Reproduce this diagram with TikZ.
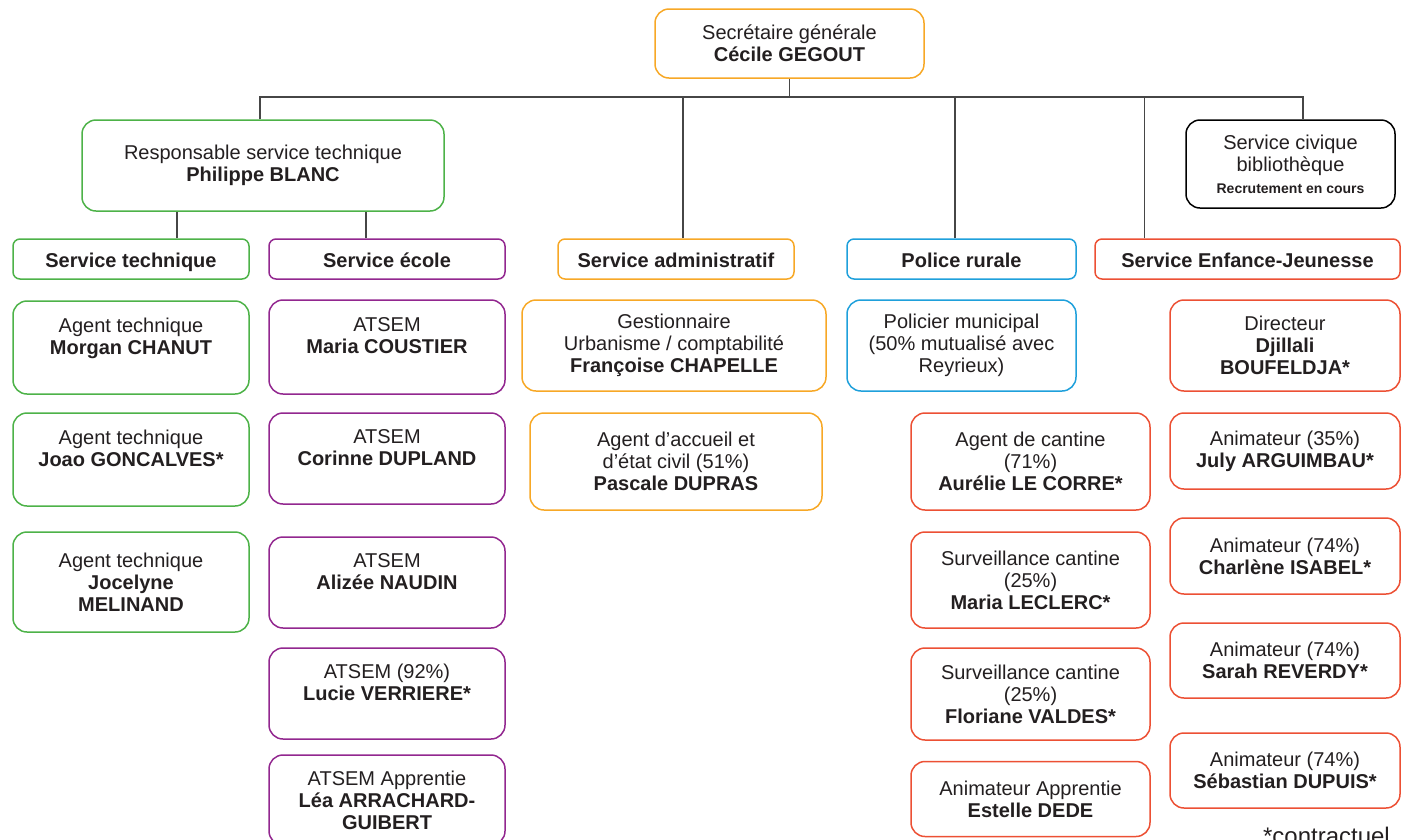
\documentclass[tikz,border=0pt]{standalone}
\usepackage{fontspec}
\setmainfont{Liberation Sans}
\usepackage{tikz}
\definecolor{vertST}{RGB}{77,178,72}
\definecolor{violetSE}{RGB}{146,39,143}
\definecolor{orangeSA}{RGB}{247,168,38}
\definecolor{bleuPR}{RGB}{31,160,219}
\definecolor{rougeEJ}{RGB}{236,80,52}
\definecolor{texte}{RGB}{35,31,32}
\definecolor{trait}{RGB}{70,70,70}
\newcommand{\taille}{\fontsize{20}{22}\selectfont}
\tikzstyle{poste} = [draw, rectangle, rounded corners=14pt, line width=1.5pt,
    align=center, text=texte, font=\taille, inner sep=0pt]
\tikzstyle{entete} = [poste, rounded corners=7pt, minimum height=40pt,
    text height=17pt, text depth=0pt, font=\taille\bfseries]
\tikzstyle{lien} = [draw=trait, line width=1.3pt]

\begin{document}
\begin{tikzpicture}[x=1pt, y=-1pt]
    \useasboundingbox (0,0) rectangle (1404,839);
    % direction
    \node[poste, draw=orangeSA, minimum width=269pt, minimum height=69pt] (sg) at (789.5,43.5)
        {Secrétaire générale\\ \textbf{Cécile GEGOUT}};
    \node[poste, draw=vertST, minimum width=362pt, minimum height=91pt] (resp) at (263,165.5)
        {Responsable service technique\\ \textbf{Philippe BLANC}};
    \node[poste, draw=black, minimum width=209pt, minimum height=88pt] (civ) at (1290.5,164)
        {Service civique\\ bibliothèque\\ {\fontsize{14}{16}\selectfont\bfseries Recrutement en cours}};

    % services
    \node[entete, draw=vertST, minimum width=236pt] (st) at (131,259) {Service technique};
    \node[entete, draw=violetSE, minimum width=236pt] (se) at (387,259) {Service école};
    \node[entete, draw=orangeSA, minimum width=236pt] (sa) at (676,259) {Service administratif};
    \node[entete, draw=bleuPR, minimum width=229pt] (pr) at (961.5,259) {Police rurale};
    \node[entete, draw=rougeEJ, minimum width=305pt] (sej) at (1247.5,259) {Service Enfance-Jeunesse};

    % service technique
    \node[poste, draw=vertST, minimum width=236pt, minimum height=93pt] (at1) at (131,347.5)
        {Agent technique\\ \textbf{Morgan CHANUT}\\ ~};
    \node[poste, draw=vertST, minimum width=236pt, minimum height=93pt] (at2) at (131,459.5)
        {Agent technique\\ \textbf{Joao GONCALVES*}\\ ~};
    \node[poste, draw=vertST, minimum width=236pt, minimum height=100pt] (at3) at (131,582)
        {Agent technique\\ \textbf{Jocelyne}\\ \textbf{MELINAND}};

    % service ecole
    \node[poste, draw=violetSE, minimum width=236pt, minimum height=94pt] (ec1) at (387,347)
        {ATSEM\\ \textbf{Maria COUSTIER}\\ ~};
    \node[poste, draw=violetSE, minimum width=236pt, minimum height=91pt] (ec2) at (387,458.5)
        {ATSEM\\ \textbf{Corinne DUPLAND}\\ ~};
    \node[poste, draw=violetSE, minimum width=236pt, minimum height=91pt] (ec3) at (387,582.5)
        {ATSEM\\ \textbf{Alizée NAUDIN}\\ ~};
    \node[poste, draw=violetSE, minimum width=236pt, minimum height=91pt] (ec4) at (387,693.5)
        {ATSEM (92\%)\\ \textbf{Lucie VERRIERE*}\\ ~};
    \node[poste, draw=violetSE, minimum width=236pt, minimum height=90pt] (ec5) at (387,800)
        {ATSEM Apprentie\\ \textbf{Léa ARRACHARD-}\\ \textbf{GUIBERT}};

    % service administratif
    \node[poste, draw=orangeSA, minimum width=304pt, minimum height=91pt] (ad1) at (674,345.5)
        {Gestionnaire\\ Urbanisme / comptabilité\\ \textbf{Françoise CHAPELLE}};
    \node[poste, draw=orangeSA, minimum width=292pt, minimum height=97pt] (ad2) at (676,461.5)
        {Agent d’accueil et\\ d’état civil (51\%)\\ \textbf{Pascale DUPRAS}};

    % police rurale et cantine
    \node[poste, draw=bleuPR, minimum width=229pt, minimum height=91pt] (pol) at (961.5,345.5)
        {Policier municipal\\ (50\% mutualisé avec\\ Reyrieux)};
    \node[poste, draw=rougeEJ, minimum width=239pt, minimum height=97pt] (ca1) at (1030.5,461.5)
        {Agent de cantine\\ (71\%)\\ \textbf{Aurélie LE CORRE*}};
    \node[poste, draw=rougeEJ, minimum width=239pt, minimum height=96pt] (ca2) at (1030.5,580)
        {Surveillance cantine\\ (25\%)\\ \textbf{Maria LECLERC*}};
    \node[poste, draw=rougeEJ, minimum width=239pt, minimum height=92pt] (ca3) at (1030.5,694)
        {Surveillance cantine\\ (25\%)\\ \textbf{Floriane VALDES*}};
    \node[poste, draw=rougeEJ, minimum width=239pt, minimum height=75pt] (ca4) at (1030.5,799)
        {Animateur Apprentie\\ \textbf{Estelle DEDE}};

    % enfance-jeunesse
    \node[poste, draw=rougeEJ, minimum width=230pt, minimum height=91pt] (ej1) at (1285,345.5)
        {Directeur\\ \textbf{Djillali}\\ \textbf{BOUFELDJA*}};
    \node[poste, draw=rougeEJ, minimum width=230pt, minimum height=76pt] (ej2) at (1285,451)
        {Animateur (35\%)\\ \textbf{July ARGUIMBAU*}};
    \node[poste, draw=rougeEJ, minimum width=230pt, minimum height=76pt] (ej3) at (1285,556)
        {Animateur (74\%)\\ \textbf{Charlène ISABEL*}};
    \node[poste, draw=rougeEJ, minimum width=230pt, minimum height=75pt] (ej4) at (1285,660.5)
        {Animateur (74\%)\\ \textbf{Sarah REVERDY*}};
    \node[poste, draw=rougeEJ, minimum width=230pt, minimum height=75pt] (ej5) at (1285,770.5)
        {Animateur (74\%)\\ \textbf{Sébastian DUPUIS*}};

    \node[font=\fontsize{24}{26}\selectfont, text=texte, inner sep=0pt, anchor=base east] (note)
        at (1390,844) {*contractuel};

    % liaisons
    \coordinate (bus) at (sg.south |- 0,97);
    \draw[lien] (sg.south) -- (bus);
    \draw[lien] ([xshift=-3pt]resp.north) |- (bus) -| ([xshift=12.5pt]civ.north);
    \draw[lien] ([xshift=7pt]sa.north) |- (bus);
    \draw[lien] ([xshift=-6.5pt]pr.north) |- (bus);
    \draw[lien] ([xshift=50pt]sej.north west) |- (bus);
    \coordinate (j1) at ([xshift=46pt]st.north);
    \coordinate (j2) at ([xshift=-21pt]se.north);
    \draw[lien] (j1) -- (j1 |- resp.south);
    \draw[lien] (j2) -- (j2 |- resp.south);
\end{tikzpicture}
\end{document}
